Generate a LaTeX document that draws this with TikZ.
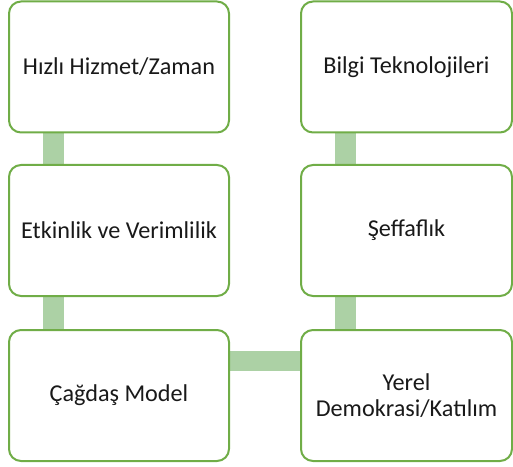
\documentclass[tikz,border=0pt]{standalone}
\usepackage{fontspec}
\setmainfont{Carlito}
\usetikzlibrary{backgrounds,calc}
\definecolor{boxgreen}{RGB}{112,173,71}
\definecolor{linkgreen}{RGB}{172,209,165}
\begin{document}
\begin{tikzpicture}[x=1pt,y=1pt,
  stepbox/.style={draw=boxgreen, line width=2pt, fill=white, rounded corners=12pt,
    minimum height=131pt, align=center, inner sep=2pt,
    font=\fontsize{24.2}{25.5}\selectfont, text=black!90},
  leftbox/.style={stepbox, minimum width=220pt},
  rightbox/.style={stepbox, minimum width=211pt},
  conn/.style={draw=linkgreen, line width=20.5pt}]
\useasboundingbox (0,0) rectangle (513,466);
% left column (centre x = 119)
\node[leftbox]  (a) at (119,399)   {Hızlı Hizmet/Zaman};
\node[leftbox]  (b) at (119,235.5) {Etkinlik ve Verimlilik};
\node[leftbox]  (c) at (119,70.5)  {Çağdaş Model};
% right column (centre x = 406.5)
\node[rightbox] (d) at (406.5,399)   {Bilgi Teknolojileri};
\node[rightbox] (e) at (406.5,235.5) {Şeffaflık};
\node[rightbox] (f) at (406.5,70.5)  {Yerel\\Demokrasi/Katılım};
\begin{scope}[on background layer]
\draw[conn] ($(a.south west)+(45.7,0)$) -- ($(b.north west)+(45.7,0)$);
\draw[conn] ($(b.south west)+(45.7,0)$) -- ($(c.north west)+(45.7,0)$);
\draw[conn] ($(d.south west)+(45.7,0)$) -- ($(e.north west)+(45.7,0)$);
\draw[conn] ($(e.south west)+(45.7,0)$) -- ($(f.north west)+(45.7,0)$);
\draw[conn] ($(c.north east)+(0,-32)$) -- ($(f.north west)+(0,-32)$);
\end{scope}
\end{tikzpicture}
\end{document}
